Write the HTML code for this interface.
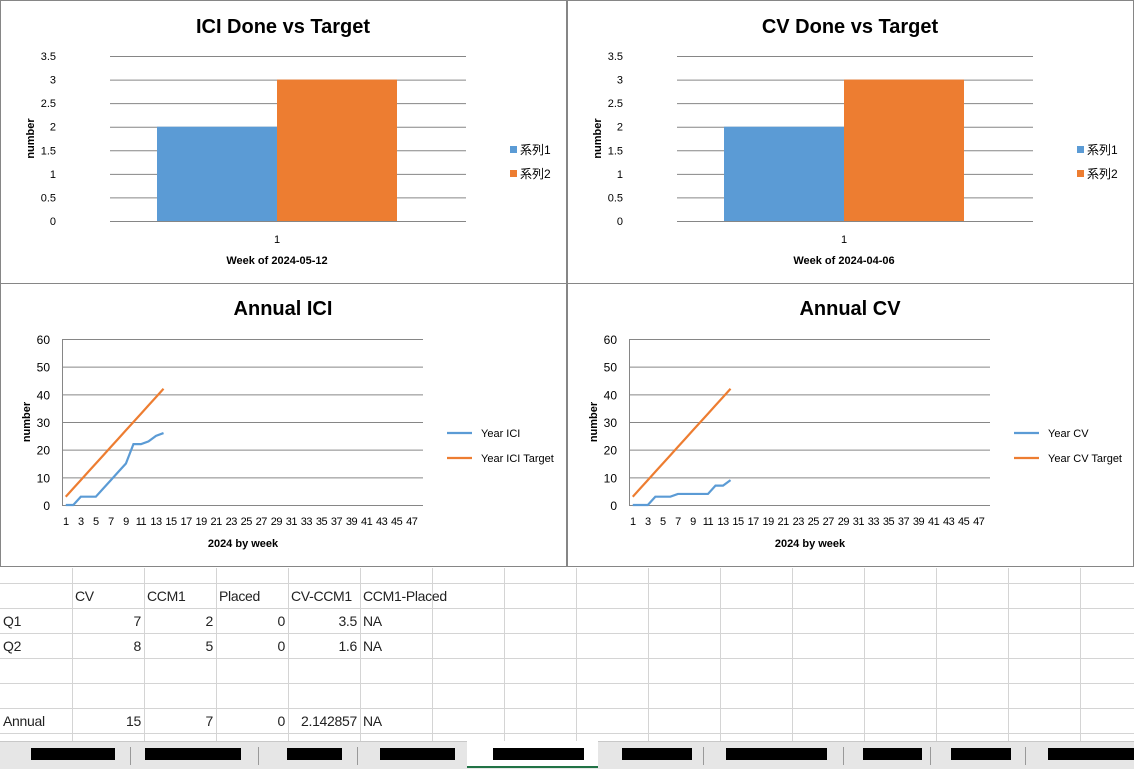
<!DOCTYPE html>
<html><head><meta charset="utf-8"><style>
body{margin:0;width:1134px;height:768px;overflow:hidden;background:#fff;font-family:"Liberation Sans","Noto Sans CJK JP",sans-serif;position:relative}
.abs{position:absolute}
svg text{font-family:"Liberation Sans","Noto Sans CJK JP",sans-serif}
</style></head><body>
<svg id="charts" class="abs" style="left:0;top:0" width="1134" height="568"></svg>
<div id="sheet" class="abs" style="left:0;top:568px;width:1134px;height:176px"></div>
<div id="tabs" class="abs" style="left:0;top:741px;width:1134px;height:27px;background:#e6e6e6;border-top:1px solid #c8c8c8"></div>
<script>
const barSeries1=[2], barSeries2=[3];
const barCV1=[2], barCV2=[3];
const barTicks=[0,0.5,1,1.5,2,2.5,3,3.5];
const lineTicks=[0,10,20,30,40,50,60];
const weeks=Array.from({length:48},(_,i)=>i+1);
const yearICI=[0,0,3,3,3,6,9,12,15,22,22,23,25,26];
const yearICITarget=[3,6,9,12,15,18,21,24,27,30,33,36,39,42];
const yearCV=[0,0,0,3,3,3,4,4,4,4,4,7,7,9];
const yearCVTarget=[3,6,9,12,15,18,21,24,27,30,33,36,39,42];
const BLUE='#5b9bd5', ORANGE='#ed7d31';
const svg=document.getElementById('charts');
const NS='http://www.w3.org/2000/svg';
function mk(tag,attrs,parent){const e=document.createElementNS(NS,tag);for(const k in attrs)e.setAttribute(k,attrs[k]);(parent||svg).appendChild(e);return e;}
function txt(s,attrs,parent){const e=mk('text',attrs,parent);e.textContent=s;return e;}

function panel(x,y,w,h,name){const g=mk('g',{});
mk('rect',{x:x+0.5,y:y+0.5,width:w-1,height:h-1,fill:'#fff',stroke:'#868686'},g);return g;}

function barChart(ox,title,s1,s2,xtitle,name){
 const g=panel(ox,0,567,284,name);
 const L=ox+110,R=ox+466,T=56,B=221,max=3.5;
 const ys=v=>B-(v/max)*(B-T);
 const t=txt(title,{x:ox+283,y:33,'text-anchor':'middle','font-size':20,'font-weight':'bold'},g);
 
 barTicks.forEach(v=>{mk('line',{x1:L,x2:R,y1:ys(v)+.5,y2:ys(v)+.5,stroke:'#868686'},g);
  txt(String(v),{x:ox+56,y:ys(v)+4,'font-size':11,'text-anchor':'end'},g);});
 const bw=120,cx=ox+277;
 s1.forEach((v,i)=>{const r=mk('rect',{x:cx-bw,y:ys(v),width:bw,height:B-ys(v),fill:BLUE},g);
  });
 s2.forEach((v,i)=>{const r=mk('rect',{x:cx,y:ys(v),width:bw,height:B-ys(v),fill:ORANGE},g);
  });
 txt('1',{x:cx,y:243,'font-size':11,'text-anchor':'middle'},g);
 txt(xtitle,{x:cx,y:264,'font-size':11,'font-weight':'bold','text-anchor':'middle'},g);
 txt('number',{transform:`translate(${ox+34},${(T+B)/2}) rotate(-90)`,'font-size':11,'font-weight':'bold','text-anchor':'middle'},g);
 [['系列1',BLUE,150],['系列2',ORANGE,174]].forEach(([n,c,yy])=>{
  const lg=mk('g',{},g);
  mk('rect',{x:ox+510,y:yy-4,width:7,height:7,fill:c},lg);txt(n,{x:ox+520,y:yy+4,'font-size':12},lg);});
}
function lineChart(ox,title,a,b,na,nb,name){
 const g=panel(ox,283,567,284,name);
 const L=ox+62,R=ox+423,T=339,B=505,max=60;
 const ys=v=>B-(v/max)*(B-T);
 const step=(R-L)/weeks.length, xs=i=>L+(i+0.5)*step;
 const t=txt(title,{x:ox+283,y:315,'text-anchor':'middle','font-size':20,'font-weight':'bold'},g);
 
 lineTicks.forEach(v=>{mk('line',{x1:L,x2:R,y1:ys(v)+.5,y2:ys(v)+.5,stroke:'#868686'},g);
  txt(String(v),{x:L-12,y:ys(v)+5,'font-size':12,'text-anchor':'end'},g);});
 mk('line',{x1:L+.5,x2:L+.5,y1:T,y2:B,stroke:'#868686'},g);
 weeks.forEach((w,i)=>{if(w%2===1)txt(String(w),{x:xs(i),y:525,'font-size':11,'text-anchor':'middle','letter-spacing':'-0.5'},g);});
 txt('2024 by week',{x:ox+243,y:547,'font-size':11,'font-weight':'bold','text-anchor':'middle'},g);
 txt('number',{transform:`translate(${ox+30},${(T+B)/2}) rotate(-90)`,'font-size':11,'font-weight':'bold','text-anchor':'middle'},g);
 [[a,BLUE,'line-actual'],[b,ORANGE,'line-target']].forEach(([d,c,n])=>{
  const p=mk('polyline',{points:d.map((v,i)=>xs(i)+','+ys(v)).join(' '),fill:'none',stroke:c,'stroke-width':2.2},g);
  });
 [[na,BLUE,433],[nb,ORANGE,458]].forEach(([n,c,yy])=>{
  const lg=mk('g',{},g);
  mk('line',{x1:ox+447,x2:ox+472,y1:yy,y2:yy,stroke:c,'stroke-width':2.2},lg);txt(n,{x:ox+481,y:yy+4,'font-size':11},lg);});
}
barChart(0,'ICI Done vs Target',barSeries1,barSeries2,'Week of 2024-05-12','ici-bar-chart');
barChart(567,'CV Done vs Target',barCV1,barCV2,'Week of 2024-04-06','cv-bar-chart');
lineChart(0,'Annual ICI',yearICI,yearICITarget,'Year ICI','Year ICI Target','annual-ici-chart');
lineChart(567,'Annual CV',yearCV,yearCVTarget,'Year CV','Year CV Target','annual-cv-chart');

const sheet=document.getElementById('sheet');
let h='';
for(let x=72;x<1134;x+=72)h+=`<div class="abs" style="left:${x}px;top:0;width:1px;height:176px;background:#d4d4d4"></div>`;
[15,40,65,90,115,140,165].forEach(y=>h+=`<div class="abs" style="left:0;top:${y}px;width:1134px;height:1px;background:#d4d4d4"></div>`);
const rows=[[40,['','CV','CCM1','Placed','CV-CCM1','CCM1-Placed']],[65,['Q1','7','2','0','3.5','NA']],[90,['Q2','8','5','0','1.6','NA']],[165,['Annual','15','7','0','2.142857','NA']]];
rows.forEach(([y,cells],ri)=>cells.forEach((c,i)=>{const num=ri>0&&i>=1&&i<=4;
 h+=`<div class="abs" style="left:${i*72+3}px;top:${y-20}px;width:66px;font-size:14px;color:#222;text-align:${num?'right':'left'};white-space:nowrap;letter-spacing:-0.3px">${c}</div>`;}));
sheet.innerHTML=h;
const tabs=document.getElementById('tabs');
let t='';
[130,258,357,703,843,930,1025].forEach(x=>t+=`<div class="abs" style="left:${x}px;top:5px;width:1px;height:18px;background:#999"></div>`);
t+=`<div class="abs" style="left:467px;top:-1px;width:131px;height:25px;background:#fff;border-bottom:2px solid #217346"></div>`;
[[31,84],[145,96],[287,55],[380,75],[493,91],[622,70],[726,101],[863,59],[951,60],[1048,86]].forEach(([x,w])=>t+=`<div class="abs" style="left:${x}px;top:6px;width:${w}px;height:12px;background:#000"></div>`);
tabs.innerHTML=t;
</script>
</body></html>
